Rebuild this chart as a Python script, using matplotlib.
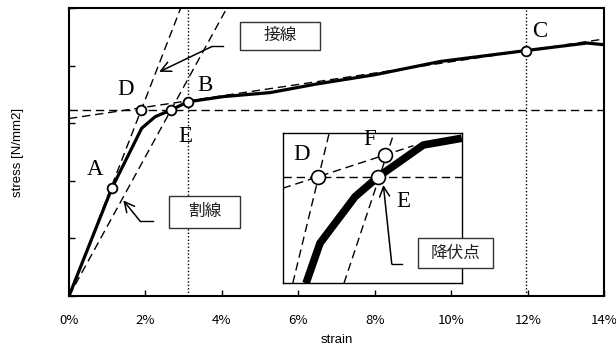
import matplotlib
matplotlib.use('Agg')
import matplotlib.pyplot as plt
from matplotlib.patches import Rectangle
from matplotlib.ticker import FuncFormatter

# ---- main curve data (strain in %, stress in arbitrary units) ----
strain = [0, 1.12, 1.90, 2.25, 2.67, 3.11, 4.03, 5.26, 6.48, 8.0, 9.71, 11.96, 13.55, 14.0]
stress = [0, 1.87, 2.91, 3.11, 3.23, 3.37, 3.46, 3.53, 3.68, 3.84, 4.07, 4.26, 4.39, 4.36]

# named points
point_names = ['A', 'D', 'E', 'B', 'C']
point_x = [1.12, 1.89, 2.67, 3.11, 11.96]
point_y = [1.87, 3.23, 3.23, 3.37, 4.26]
label_x = [0.68, 1.47, 3.04, 3.56, 12.31]
label_y = [2.19, 3.58, 2.77, 3.66, 4.59]

yield_level = 3.23
tangent_slope = 1.71
secant_slope = 1.21
harden_intercept = 3.08
harden_slope = 0.0986
dotted_x = [3.11, 11.96]

x_ticks = [0, 2, 4, 6, 8, 10, 12, 14]
y_ticks = [0, 1, 2, 3, 4, 5]

# inset (schematic) data, own units 0..10
in_x = [1.30, 2.08, 4.04, 5.34, 7.85, 10.0]
in_y = [0.0, 2.66, 5.75, 7.08, 9.18, 9.63]
in_pt_names = ['D', 'E', 'F']
in_pt_x = [1.99, 5.34, 5.71]
in_pt_y = [7.08, 7.08, 8.52]
in_lab_x = [1.06, 6.72, 4.88]
in_lab_y = [8.52, 5.42, 9.52]

fig = plt.figure(figsize=(6.16, 3.58), dpi=100)
ax = fig.add_axes([0.112, 0.173, 0.869, 0.805])

dash = (0, (6, 3.5))
dot = (0, (1, 1.5))

ax.plot([0, 14], [yield_level, yield_level], color='black', lw=1, ls=dash, zorder=2)
ax.plot([0, 5 / tangent_slope], [0, 5], color='black', lw=1, ls=dash, zorder=2)
ax.plot([0, 5 / secant_slope], [0, 5], color='black', lw=1, ls=dash, zorder=2)
ax.plot([0, 14], [harden_intercept, harden_intercept + 14 * harden_slope],
        color='black', lw=1, ls=dash, zorder=2)
for xv in dotted_x:
    ax.plot([xv, xv], [0, 5], color='black', lw=1, ls=dot, zorder=2)

ax.plot(strain, stress, color='black', lw=2.3, zorder=3, solid_joinstyle='round')
ax.plot(point_x, point_y, 'o', ms=7, mfc='white', mec='black', mew=1.3, zorder=4)

for n, lx, ly in zip(point_names, label_x, label_y):
    ax.text(lx, ly, n, family='Liberation Serif', fontsize=16.5,
            ha='center', va='center', zorder=5)

# label boxes
jp = ['Noto Sans CJK JP', 'DejaVu Sans']
box_text = ['接線', '割線', '降伏点']
box_x0 = [4.48, 2.62, 9.14]
box_x1 = [6.57, 4.48, 11.09]
box_y0 = [4.27, 1.18, 0.48]
box_y1 = [4.76, 1.74, 1.00]

# arrows (tail, kink, head)
arr_tail = [(4.03, 4.33), (2.19, 1.30)]
arr_kink = [(3.74, 4.33), (1.86, 1.30)]
arr_head = [(2.36, 3.89), (1.42, 1.66)]
for t, k, h in zip(arr_tail, arr_kink, arr_head):
    ax.plot([t[0], k[0]], [t[1], k[1]], color='black', lw=1, zorder=5)
    ax.annotate('', xy=h, xytext=k,
                arrowprops=dict(arrowstyle='->', color='black', lw=1.1,
                                mutation_scale=18, shrinkA=0, shrinkB=0), zorder=5)

ax.set_xlim(0, 14)
ax.set_ylim(0, 5)
ax.set_xticks(x_ticks)
ax.set_yticks(y_ticks)
ax.xaxis.set_major_formatter(FuncFormatter(lambda v, p: f'{v:.0f}%'))
ax.set_yticklabels([])
ax.tick_params(direction='in', length=4, width=1)
ax.tick_params(axis='x', labelsize=9.5, pad=13)
for lab in ax.get_xticklabels():
    lab.set_family(jp)
for s in ax.spines.values():
    s.set_linewidth(1.5)
ax.set_xlabel('strain', family='Liberation Sans', fontsize=9.5, labelpad=5)
ax.set_ylabel('stress [N/mm2]', family='Liberation Sans', fontsize=9.5, labelpad=29)

# ---- inset ----
ins = fig.add_axes([0.459, 0.2087, 0.2906, 0.4207])
ins.set_xlim(0, 10)
ins.set_ylim(0, 10)
ins.set_xticks([])
ins.set_yticks([])
for s in ins.spines.values():
    s.set_linewidth(1.0)
ins.plot([0, 10], [7.08, 7.08], color='black', lw=1, ls=dash, zorder=2)
ins.plot([0.56, 2.60], [0, 10], color='black', lw=1, ls=dash, zorder=2)
ins.plot([3.42, 6.22], [0, 10], color='black', lw=1, ls=dash, zorder=2)
ins.plot([0, 7.3], [6.31, 6.31 + 7.3 * 0.387], color='black', lw=1, ls=dash, zorder=2)
ins.plot(in_x, in_y, color='black', lw=5.5, zorder=3, solid_capstyle='butt')
ins.plot(in_pt_x, in_pt_y, 'o', ms=10, mfc='white', mec='black', mew=1.2, zorder=4)
for n, lx, ly in zip(in_pt_names, in_lab_x, in_lab_y):
    ins.text(lx, ly, n, family='Liberation Serif', fontsize=16.5,
             ha='center', va='center', zorder=5)
ins.plot([6.65, 6.09], [1.28, 1.28], color='black', lw=1, zorder=5)
ins.annotate('', xy=(5.62, 6.53), xytext=(6.09, 1.28),
             arrowprops=dict(arrowstyle='->', color='black', lw=1.1,
                             mutation_scale=18, shrinkA=0, shrinkB=0), zorder=5)

for t, x0, x1, y0, y1 in zip(box_text[:2], box_x0[:2], box_x1[:2], box_y0[:2], box_y1[:2]):
    ax.add_patch(Rectangle((x0, y0), x1 - x0, y1 - y0, facecolor='white',
                           edgecolor='#333333', lw=1, zorder=20))
    ax.text((x0 + x1) / 2, (y0 + y1) / 2, t, family=jp, fontsize=12,
            ha='center', va='center', zorder=21, color='#222222')

# yield-point box above the inset
ax.set_zorder(1)
ins.set_zorder(2)
box3 = Rectangle((box_x0[2], box_y0[2]), box_x1[2] - box_x0[2], box_y1[2] - box_y0[2],
                 transform=ax.transData, facecolor='white', edgecolor='#333333',
                 lw=1, zorder=30, clip_on=False)
ins.add_patch(box3)
ins.text((box_x0[2] + box_x1[2]) / 2, (box_y0[2] + box_y1[2]) / 2, box_text[2],
         transform=ax.transData, family=jp, fontsize=12, ha='center', va='center',
         zorder=31, color='#222222', clip_on=False)

fig.savefig('out.png', dpi=100)
